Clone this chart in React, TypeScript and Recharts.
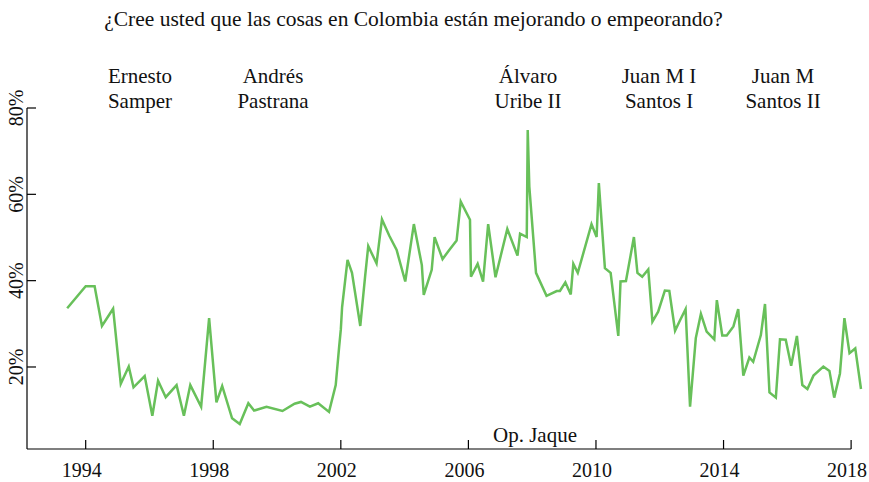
import React from 'react'
import { LineChart, Line, XAxis, YAxis, ReferenceLine } from 'recharts'

// fechas de encuesta (año decimal) y % que dice que las cosas están mejorando
const years = [
  1993.42, 1994.0, 1994.28, 1994.51, 1994.86, 1995.1, 1995.35, 1995.5, 1995.85, 1996.09,
  1996.27, 1996.51, 1996.85, 1997.08, 1997.28, 1997.62, 1997.87, 1998.1, 1998.28, 1998.59,
  1998.83, 1999.1, 1999.28, 1999.67, 2000.17, 2000.55, 2000.75, 2001.03, 2001.29, 2001.63,
  2001.84, 2001.95, 2002.0, 2002.04, 2002.21, 2002.35, 2002.61, 2002.76, 2002.86, 2003.12,
  2003.29, 2003.52, 2003.75, 2004.02, 2004.29, 2004.54, 2004.6, 2004.85, 2004.94, 2005.19,
  2005.4, 2005.63, 2005.76, 2006.05, 2006.08, 2006.29, 2006.46, 2006.62, 2006.85, 2007.22,
  2007.54, 2007.62, 2007.83, 2007.86, 2007.91, 2008.12, 2008.45, 2008.77, 2008.87, 2009.04,
  2009.21, 2009.29, 2009.43, 2009.86, 2010.02, 2010.09, 2010.15, 2010.28, 2010.46, 2010.7,
  2010.77, 2010.94, 2011.19, 2011.3, 2011.45, 2011.64, 2011.77, 2011.95, 2012.16, 2012.3,
  2012.48, 2012.64, 2012.81, 2012.95, 2013.13, 2013.29, 2013.47, 2013.71, 2013.79, 2013.96,
  2014.1, 2014.31, 2014.46, 2014.62, 2014.81, 2014.93, 2015.17, 2015.3, 2015.44, 2015.64,
  2015.77, 2015.95, 2016.12, 2016.3, 2016.47, 2016.63, 2016.82, 2017.13, 2017.32, 2017.47,
  2017.65, 2017.79, 2017.95, 2018.13, 2018.31,
]

const mejorando = [
  33.6, 38.7, 38.7, 29.5, 33.5, 16.1, 20.1, 15.3, 17.9, 8.7,
  16.8, 13.0, 15.8, 8.7, 15.8, 10.8, 31.3, 11.8, 15.6, 8.1,
  6.8, 11.6, 9.9, 10.8, 9.8, 11.5, 11.9, 10.8, 11.6, 9.6,
  15.8, 24.9, 28.7, 33.9, 44.8, 41.8, 29.5, 40.9, 48.0, 44.0,
  54.2, 50.4, 47.1, 39.8, 53.1, 43.6, 36.7, 42.5, 50.1, 45.0,
  47.1, 49.3, 58.3, 54.1, 40.9, 43.9, 39.8, 53.1, 40.8, 52.0,
  45.8, 50.9, 50.1, 74.9, 61.8, 41.8, 36.5, 37.6, 37.6, 39.6,
  36.8, 43.9, 41.8, 53.1, 50.1, 62.6, 56.4, 42.9, 41.8, 27.2,
  39.8, 39.9, 50.1, 41.8, 40.9, 42.6, 30.5, 32.8, 37.7, 37.6,
  28.4, 30.9, 33.4, 10.8, 26.7, 32.3, 28.2, 26.4, 35.5, 27.3,
  27.3, 29.4, 33.4, 18.0, 22.2, 21.2, 27.4, 34.6, 14.1, 12.9,
  26.4, 26.3, 20.3, 27.2, 15.8, 14.9, 18.0, 20.1, 19.1, 12.9,
  18.5, 31.3, 23.2, 24.3, 14.9,
]

const yearTicks = [1994, 1998, 2002, 2006, 2010, 2014, 2018]
const pctTicks = [20, 40, 60, 80]

const presidents = [
  { lines: ['Ernesto', 'Samper'], cx: 140 },
  { lines: ['Andrés', 'Pastrana'], cx: 273 },
  { lines: ['Álvaro', 'Uribe II'], cx: 528 },
  { lines: ['Juan M I', 'Santos I'], cx: 659 },
  { lines: ['Juan M', 'Santos II'], cx: 783 },
]

const title = '¿Cree usted que las cosas en Colombia están mejorando o empeorando?'

const FONT = '"Liberation Serif", "Times New Roman", serif'

const data = years.map((year, i) => ({ year, value: mejorando[i] }))

const XTick = ({ x, y, payload }: any) => (
  <g>
    <line x1={x} x2={x} y1={y} y2={y - 9} stroke="#000" strokeWidth={1.2} />
    <text x={x - 4} y={y + 28} textAnchor="middle" fontSize={20} fontFamily={FONT} fill="#111">
      {payload.value}
    </text>
  </g>
)

const YTick = ({ x, y, payload }: any) => (
  <g>
    <line x1={x} x2={x + 9} y1={y} y2={y} stroke="#000" strokeWidth={1.2} />
    <text
      transform={`translate(${x - 4},${y}) rotate(-90)`}
      textAnchor="middle"
      fontSize={20}
      fontFamily={FONT}
      fill="#111"
    >
      {`${payload.value}%`}
    </text>
  </g>
)

export default function App() {
  return (
    <div style={{ position: 'absolute', left: 0, top: 0, width: 869, height: 482, background: '#fff' }}>
      <LineChart width={869} height={482} data={data} margin={{ top: 108, right: 8, bottom: 0, left: 0 }}>
        <XAxis
          dataKey="year"
          type="number"
          domain={[1992.16, 2018.31]}
          ticks={yearTicks}
          tick={<XTick />}
          tickLine={false}
          axisLine={false}
          tickSize={0}
          tickMargin={0}
          height={33}
        />
        <YAxis
          type="number"
          domain={[1, 80]}
          ticks={pctTicks}
          tick={<YTick />}
          tickLine={false}
          axisLine={{ stroke: '#000', strokeWidth: 1.2 }}
          tickSize={0}
          tickMargin={0}
          width={27}
        />
        <ReferenceLine
          segment={[{ x: 1992.16, y: 1 }, { x: 2018, y: 1 }]}
          stroke="#000"
          strokeWidth={1.2}
          ifOverflow="visible"
        />
        <Line
          type="linear"
          dataKey="value"
          stroke="#68c05a"
          strokeWidth={2.5}
          dot={false}
          isAnimationActive={false}
        />
      </LineChart>
      <svg
        width={869}
        height={482}
        style={{ position: 'absolute', left: 0, top: 0, pointerEvents: 'none' }}
        fontFamily={FONT}
        fill="#111"
      >
        <text x={413.5} y={26} textAnchor="middle" fontSize={21.5}>
          {title}
        </text>
        {presidents.map((p) => (
          <text key={p.cx} x={p.cx} textAnchor="middle" fontSize={21}>
            <tspan x={p.cx} y={83}>{p.lines[0]}</tspan>
            <tspan x={p.cx} y={108}>{p.lines[1]}</tspan>
          </text>
        ))}
        <text x={535} y={442} textAnchor="middle" fontSize={21}>
          Op. Jaque
        </text>
      </svg>
    </div>
  )
}
